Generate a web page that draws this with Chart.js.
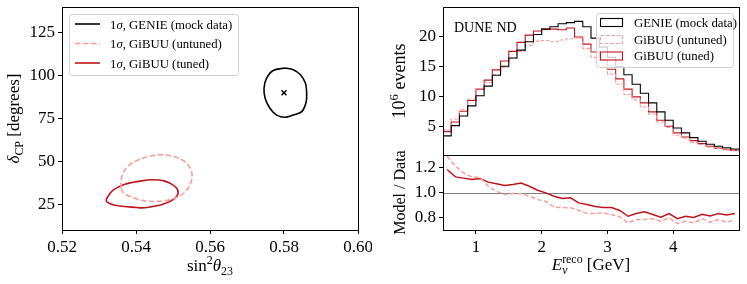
<!DOCTYPE html>
<html>
<head>
<meta charset="utf-8">
<script src="https://cdn.jsdelivr.net/npm/chart.js@4/dist/chart.umd.min.js"></script>
<style>
  html, body { margin: 0; padding: 0; background: #fff; }
  #wrap { position: relative; width: 747px; height: 284px; }
  .panel { position: absolute; }
</style>
</head>
<body>
<div id="wrap">
  <div class="panel" style="left:0;top:0;width:372px;height:284px"><canvas id="contours"></canvas></div>
  <div class="panel" style="left:372px;top:0;width:375px;height:162px"><canvas id="spectrum"></canvas></div>
  <div class="panel" style="left:372px;top:150px;width:375px;height:134px"><canvas id="ratio"></canvas></div>
</div>
<script>
// ---- left panel: 1 sigma contours (sin^2 theta23, deltaCP) ----
const genieContourX = [0.5803, 0.5825, 0.5845, 0.5858, 0.5861, 0.5860, 0.5848, 0.5825, 0.5803, 0.5780, 0.5762, 0.5749, 0.5746, 0.5753, 0.5771, 0.5803];
const genieContourY = [104.4, 103.4, 100.4, 95.6, 90.7, 84.8, 79.0, 77.0, 75.7, 77.0, 81.0, 86.8, 92.7, 98.5, 103.0, 104.4];
const untunedContourX = [0.5359, 0.5362, 0.5378, 0.5411, 0.5454, 0.5497, 0.5530, 0.5549, 0.5550, 0.5535, 0.5505, 0.5465, 0.5424, 0.5389, 0.5368, 0.5359];
const untunedContourY = [34.4, 41.4, 47.2, 51.3, 53.7, 53.1, 50.1, 44.9, 39.0, 32.6, 28.5, 26.8, 27.0, 29.1, 31.4, 34.4];
const tunedContourX = [0.5319, 0.5338, 0.5370, 0.5411, 0.5443, 0.5478, 0.5505, 0.5514, 0.5505, 0.5473, 0.5424, 0.5402, 0.5343, 0.5322, 0.5319];
const tunedContourY = [27.9, 33.2, 36.7, 38.5, 39.3, 38.5, 35.5, 32.0, 28.5, 25.0, 23.0, 23.1, 24.4, 26.2, 27.9];
const truePointX = [0.58];
const truePointY = [90];
const contourXTicks = [0.52, 0.54, 0.56, 0.58, 0.60];
const contourYTicks = [25, 50, 75, 100, 125];

// ---- right panels: event spectrum and ratio ----
const binEdges = [0.5, 0.625, 0.75, 0.875, 1.0, 1.125, 1.25, 1.375, 1.5, 1.625, 1.75, 1.875,
  2.0, 2.125, 2.25, 2.375, 2.5, 2.625, 2.75, 2.875, 3.0, 3.125, 3.25, 3.375, 3.5, 3.625,
  3.75, 3.875, 4.0, 4.125, 4.25, 4.375, 4.5, 4.625, 4.75, 4.875, 5.0];
const genieEvents = [3.5, 5.2, 6.8, 8.5, 10.2, 11.8, 13.6, 15.1, 16.5, 17.8, 19.2, 20.4, 21.3, 21.7, 22.2, 22.4, 22.6, 21.7,
  19.8, 18.3, 16.6, 15.0, 13.7, 12.1, 10.6, 9.0, 7.5, 6.1, 4.8, 4.0, 3.2, 2.6, 2.1, 1.75, 1.5, 1.3];
const untunedEvents = [4.5, 6.3, 7.9, 9.6, 11.4, 12.4, 13.7, 14.9, 16.4, 17.6, 18.6, 19.3, 19.4, 19.2, 19.5, 19.7, 19.8, 18.1,
  16.6, 15.3, 13.8, 12.1, 10.4, 9.5, 8.3, 7.1, 5.8, 4.9, 3.6, 3.1, 2.4, 2.05, 1.6, 1.37, 1.14, 1.02];
const tunedEvents = [4.2, 5.8, 7.6, 9.4, 11.3, 12.8, 14.5, 16.0, 17.6, 19.1, 20.3, 21.0, 21.3, 21.3, 21.2, 21.5, 20.0, 18.8,
  17.5, 16.1, 14.6, 13.0, 11.3, 10.0, 9.0, 7.5, 6.1, 5.1, 4.0, 3.3, 2.7, 2.2, 1.75, 1.45, 1.25, 1.08];
const untunedRatio = [1.29, 1.21, 1.157, 1.125, 1.12, 1.05, 1.01, 0.984, 0.992, 0.99, 0.97, 0.944, 0.93, 0.882, 0.88, 0.878,
  0.858, 0.832, 0.832, 0.837, 0.824, 0.805, 0.757, 0.784, 0.784, 0.79, 0.77, 0.797, 0.752, 0.77, 0.757, 0.79, 0.762, 0.784, 0.762, 0.784];
const tunedRatio = [1.184, 1.125, 1.115, 1.104, 1.112, 1.083, 1.07, 1.056, 1.064, 1.075, 1.05, 1.018, 0.997, 0.97, 0.952, 0.957,
  0.917, 0.904, 0.888, 0.88, 0.88, 0.856, 0.81, 0.832, 0.845, 0.824, 0.802, 0.832, 0.79, 0.81, 0.80, 0.826, 0.813, 0.832, 0.821, 0.832];
const eventTicks = [5, 10, 15, 20];
const ratioTicks = [0.8, 1.0, 1.2];
const energyTicks = [1, 2, 3, 4];

const serif = "'Liberation Serif', 'DejaVu Serif', serif";
const black = "#000000", tunedRed = "#c0141c", untunedPink = "#ff9a9a";

Chart.defaults.font.family = serif;
Chart.defaults.color = "#000";
Chart.defaults.animation = false;

function toPoints(xs, ys) {
  return xs.map((x, i) => ({ x: x, y: ys[i] }));
}
// step outline: one point per bin edge, last bin repeated at the closing edge
function stepPoints(values) {
  return binEdges.map((e, i) => ({ x: e, y: values[Math.min(i, values.length - 1)] }));
}
const binCenters = binEdges.slice(0, -1).map((e, i) => (e + binEdges[i + 1]) / 2);
function centerPoints(values) {
  return binCenters.map((c, i) => ({ x: c, y: values[i] }));
}

// text with sub/superscripts, runs: {t, i (italic), s (scale), dy (em shift), stack}
function richText(ctx, runs, x, y, size, vertical, align) {
  ctx.save();
  ctx.translate(x, y);
  if (vertical) ctx.rotate(-Math.PI / 2);
  ctx.textBaseline = "alphabetic";
  ctx.textAlign = "left";
  ctx.fillStyle = "#000";
  let cur = 0, start = 0, width = 0;
  const laid = runs.map((r) => {
    const font = (r.i ? "italic " : "") + size * (r.s || 1) + "px " + serif;
    ctx.font = font;
    const w = ctx.measureText(r.t).width;
    let px;
    if (r.stack) {
      px = start;
      const end = Math.max(start + width, start + w);
      cur = end;
      width = end - start;
    } else {
      px = cur;
      start = cur;
      width = w;
      cur += w;
    }
    return { t: r.t, font: font, px: px, dy: (r.dy || 0) * size };
  });
  const shift = align == "left" ? 0 : cur / 2;
  laid.forEach((l) => {
    ctx.font = l.font;
    ctx.fillText(l.t, l.px - shift, l.dy);
  });
  ctx.restore();
}

function legendBox(ctx, x, y, w, h) {
  ctx.save();
  ctx.beginPath();
  ctx.roundRect(x + 0.5, y + 0.5, w, h, 3);
  ctx.fillStyle = "rgba(255,255,255,0.8)";
  ctx.fill();
  ctx.strokeStyle = "#d0d0d0";
  ctx.lineWidth = 1;
  ctx.stroke();
  ctx.restore();
}

// fixed axis size, and no extra room for overhanging labels
function fitWidth(w) {
  return (s) => { s.width = w; s.paddingTop = 0; s.paddingBottom = 0; s.paddingLeft = 0; s.paddingRight = 0; };
}
function fitHeight(h) {
  return (s) => { s.height = h; s.paddingTop = 0; s.paddingBottom = 0; s.paddingLeft = 0; s.paddingRight = 0; };
}

// common axis look: ticks outside, no grid inside
function axis(min, max, tickList, fmt, fit) {
  return {
    type: "linear",
    min: min,
    max: max,
    afterBuildTicks: (scale) => {
      scale.ticks = tickList.map((v) => ({ value: v }));
    },
    afterFit: fit,
    ticks: { font: { size: 17 }, padding: 3, color: "#000", maxRotation: 0, callback: fmt },
    grid: { drawOnChartArea: false, drawTicks: true, tickLength: 4, color: "#000" },
    border: { color: "#000", width: 1 },
  };
}

// box round the plotting area
const frame = {
  id: "frame",
  afterDatasetsDraw(chart) {
    const a = chart.chartArea, ctx = chart.ctx;
    ctx.save();
    ctx.strokeStyle = "#000";
    ctx.lineWidth = 1;
    ctx.strokeRect(Math.round(a.left) + 0.5, Math.round(a.top) + 0.5, Math.round(a.right - a.left), Math.round(a.bottom - a.top));
    ctx.restore();
  },
};

// contour chart
new Chart(document.getElementById("contours"), {
  type: "scatter",
  data: {
    datasets: [
      {
        label: "1σ, GENIE (mock data)",
        data: toPoints(genieContourX, genieContourY),
        showLine: true, borderColor: black, borderWidth: 1.6, pointRadius: 0, tension: 0.35,
      },
      {
        label: "1σ, GiBUU (untuned)",
        data: toPoints(untunedContourX, untunedContourY),
        showLine: true, borderColor: untunedPink, borderWidth: 1.6, borderDash: [5.5, 2.5], pointRadius: 0, tension: 0.35,
      },
      {
        label: "1σ, GiBUU (tuned)",
        data: toPoints(tunedContourX, tunedContourY),
        showLine: true, borderColor: tunedRed, borderWidth: 1.6, pointRadius: 0, tension: 0.35,
      },
      {
        label: "true",
        data: toPoints(truePointX, truePointY),
        pointStyle: "crossRot", pointRadius: 3.5, borderColor: black, borderWidth: 1.5,
      },
    ],
  },
  options: {
    responsive: true,
    maintainAspectRatio: false,
    layout: { padding: { top: 7, right: 14, left: 0, bottom: 0 } },
    scales: {
      x: axis(0.52, 0.6, contourXTicks, (v) => v.toFixed(2), fitHeight(54)),
      y: axis(10, 140, contourYTicks, (v) => String(v), fitWidth(62)),
    },
    plugins: { legend: { display: false }, tooltip: { enabled: false } },
  },
  plugins: [
    frame,
    {
      id: "contourText",
      afterDraw(chart) {
        const ctx = chart.ctx, a = chart.chartArea;
        richText(ctx, [{ t: "sin" }, { t: "2", s: 0.7, dy: -0.4 }, { t: "θ", i: true }, { t: "23", s: 0.7, dy: 0.25 }],
          (a.left + a.right) / 2, 271, 17, false);
        richText(ctx, [{ t: "δ", i: true }, { t: "CP", s: 0.7, dy: 0.25 }, { t: " [degrees]" }],
          19, (a.top + a.bottom) / 2, 17, true);
        // legend
        legendBox(ctx, 69, 14, 169, 61);
        const rows = [
          { y: 24, color: black, dash: [] },
          { y: 43.5, color: untunedPink, dash: [5.5, 2.5] },
          { y: 63, color: tunedRed, dash: [] },
        ];
        rows.forEach((r, i) => {
          ctx.save();
          ctx.strokeStyle = r.color;
          ctx.lineWidth = 1.6;
          ctx.setLineDash(r.dash);
          ctx.beginPath();
          ctx.moveTo(75, r.y);
          ctx.lineTo(100, r.y);
          ctx.stroke();
          ctx.restore();
          const name = chart.data.datasets[i].label.split("σ")[1];
          richText(ctx, [{ t: "1" }, { t: "σ", i: true }, { t: name }], 110, r.y + 4.5, 12.8, false, "left");
        });
      },
    },
  ],
});

// event spectrum chart
new Chart(document.getElementById("spectrum"), {
  type: "line",
  data: {
    datasets: [
      { label: "GENIE (mock data)", data: stepPoints(genieEvents), stepped: true, borderColor: black, borderWidth: 1.1, pointRadius: 0 },
      { label: "GiBUU (untuned)", data: stepPoints(untunedEvents), stepped: true, borderColor: untunedPink, borderWidth: 1.1, borderDash: [3.5, 2], pointRadius: 0 },
      { label: "GiBUU (tuned)", data: stepPoints(tunedEvents), stepped: true, borderColor: tunedRed, borderWidth: 1.1, pointRadius: 0 },
    ],
  },
  options: {
    responsive: true,
    maintainAspectRatio: false,
    layout: { padding: { top: 7, right: 8, left: 0, bottom: 7 } },
    scales: {
      x: { type: "linear", min: 0.5, max: 5.0, display: false },
      y: axis(0.3, 25, eventTicks, (v) => String(v), fitWidth(71)),
    },
    plugins: { legend: { display: false }, tooltip: { enabled: false } },
  },
  plugins: [
    frame,
    {
      id: "spectrumText",
      afterDraw(chart) {
        const ctx = chart.ctx, a = chart.chartArea;
        richText(ctx, [{ t: "10" }, { t: "6", s: 0.7, dy: -0.4 }, { t: " events" }], 33, (a.top + a.bottom) / 2, 18, true);
        richText(ctx, [{ t: "DUNE ND" }], 82, 32, 14, false, "left");
        // legend with histogram patches
        legendBox(ctx, 224, 13, 137, 54);
        const rows = [
          { y: 22, color: black, dash: [] },
          { y: 39, color: untunedPink, dash: [3.5, 2] },
          { y: 55.5, color: tunedRed, dash: [] },
        ];
        rows.forEach((r, i) => {
          ctx.save();
          ctx.strokeStyle = r.color;
          ctx.lineWidth = 1.1;
          ctx.setLineDash(r.dash);
          ctx.strokeRect(228.5, r.y - 3.5, 22, 8);
          ctx.restore();
          richText(ctx, [{ t: chart.data.datasets[i].label }], 262, r.y + 4.5, 12.8, false, "left");
        });
      },
    },
  ],
});

// model / data ratio chart
new Chart(document.getElementById("ratio"), {
  type: "line",
  data: {
    datasets: [
      { label: "GiBUU (untuned)", data: centerPoints(untunedRatio), borderColor: untunedPink, borderWidth: 1.5, borderDash: [4.5, 2.5], pointRadius: 0 },
      { label: "GiBUU (tuned)", data: centerPoints(tunedRatio), borderColor: tunedRed, borderWidth: 1.5, pointRadius: 0 },
    ],
  },
  options: {
    responsive: true,
    maintainAspectRatio: false,
    layout: { padding: { top: 5, right: 8, left: 0, bottom: 0 } },
    scales: {
      x: axis(0.5, 5.0, energyTicks, (v) => String(v), fitHeight(54)),
      y: axis(0.7, 1.3, ratioTicks, (v) => v.toFixed(1), fitWidth(71)),
    },
    plugins: { legend: { display: false }, tooltip: { enabled: false } },
  },
  plugins: [
    {
      id: "unityLine",
      beforeDatasetsDraw(chart) {
        const ctx = chart.ctx, a = chart.chartArea;
        const y = Math.round(chart.scales.y.getPixelForValue(1.0)) + 0.5;
        ctx.save();
        ctx.strokeStyle = "#808080";
        ctx.lineWidth = 1;
        ctx.beginPath();
        ctx.moveTo(a.left, y);
        ctx.lineTo(a.right, y);
        ctx.stroke();
        ctx.restore();
      },
    },
    frame,
    {
      id: "ratioText",
      afterDraw(chart) {
        const ctx = chart.ctx, a = chart.chartArea;
        richText(ctx, [{ t: "Model / Data" }], 33, (a.top + a.bottom) / 2, 16, true);
        richText(ctx, [{ t: "E", i: true }, { t: "reco", s: 0.7, dy: -0.42 }, { t: "ν", i: true, s: 0.7, dy: 0.25, stack: true }, { t: " [GeV]" }],
          (a.left + a.right) / 2, 120, 17, false);
      },
    },
  ],
});
</script>
</body>
</html>
